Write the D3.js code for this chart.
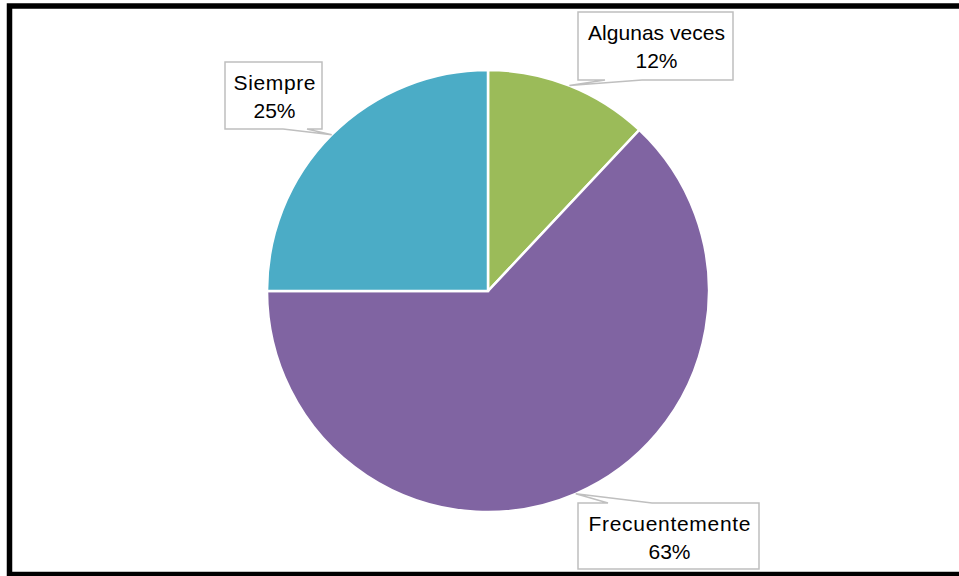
<!DOCTYPE html>
<html lang="es">
<head>
  <meta charset="UTF-8">
  <title>Pie chart</title>
  <script src="https://d3js.org/d3.v7.min.js"></script>
  <style>
    body { margin: 0; background: #fff; }
    svg { display: block; }
  </style>
</head>
<body>
  <svg width="959" height="576"></svg>
  <script>
  // data
  const categories = ["Algunas veces", "Frecuentemente", "Siempre"];
  const values = [12, 63, 25];
  const colors = ["#9BBB59", "#8064A2", "#4BACC6"];

  // callout boxes (layout only): box, side of the pointer and where its base sits
  const callouts = [
    { box: [578, 12, 733, 80], side: "bottom", base: [605, 642], nameWidth: 137 },
    { box: [578, 503, 759, 569], side: "top", base: [608, 652], nameWidth: 162 },
    { box: [225, 62, 322, 129], side: "bottom", base: [283, 307], nameWidth: 82 }
  ];

  const svg = d3.select("svg");
  const cx = 488, cy = 291, radius = 221;

  // frame
  svg.append("rect")
    .attr("x", 9.5).attr("y", 6)
    .attr("width", 1000).attr("height", 568.5)
    .attr("fill", "none")
    .attr("stroke", "#000")
    .attr("stroke-width", 5.5);

  const pie = d3.pie().sort(null).value(d => d.value);
  const data = categories.map((c, i) => ({ name: c, value: values[i], color: colors[i], callout: callouts[i] }));
  const arcs = pie(data);

  const arc = d3.arc().innerRadius(0).outerRadius(radius);

  const g = svg.append("g").attr("transform", `translate(${cx},${cy})`);

  g.selectAll("path")
    .data(arcs)
    .join("path")
    .attr("d", arc)
    .attr("fill", d => d.data.color)
    .attr("stroke", "#fff")
    .attr("stroke-width", 2.5)
    .attr("stroke-linejoin", "miter");

  // callouts
  const total = d3.sum(values);
  function calloutPath(c, tip) {
    const [x0, y0, x1, y1] = c.box;
    const [a, b] = c.base;
    if (c.side === "top") {
      return `M${x0},${y0} L${a},${y0} L${tip[0]},${tip[1]} L${b},${y0} L${x1},${y0} L${x1},${y1} L${x0},${y1} Z`;
    }
    return `M${x0},${y0} L${x1},${y0} L${x1},${y1} L${b},${y1} L${tip[0]},${tip[1]} L${a},${y1} L${x0},${y1} Z`;
  }

  arcs.forEach(d => {
    const c = d.data.callout;
    const mid = (d.startAngle + d.endAngle) / 2;
    const tip = [cx + radius * Math.sin(mid), cy - radius * Math.cos(mid)];

    svg.append("path")
      .attr("d", calloutPath(c, tip))
      .attr("fill", "#fff")
      .attr("stroke", "#BFBFBF")
      .attr("stroke-width", 1.5);

    const mx = (c.box[0] + c.box[2]) / 2 + 1;
    const t = svg.append("text")
      .attr("font-family", "'Liberation Sans', Arial, sans-serif")
      .attr("font-size", 21)
      .attr("fill", "#000")
      .attr("text-anchor", "middle");

    t.append("tspan")
      .attr("x", mx)
      .attr("y", c.box[1] + 28)
      .attr("textLength", c.nameWidth)
      .attr("lengthAdjust", "spacing")
      .text(d.data.name);

    t.append("tspan")
      .attr("x", mx)
      .attr("y", c.box[1] + 56)
      .text(Math.round(d.data.value / total * 100) + "%");
  });
  </script>
</body>
</html>
